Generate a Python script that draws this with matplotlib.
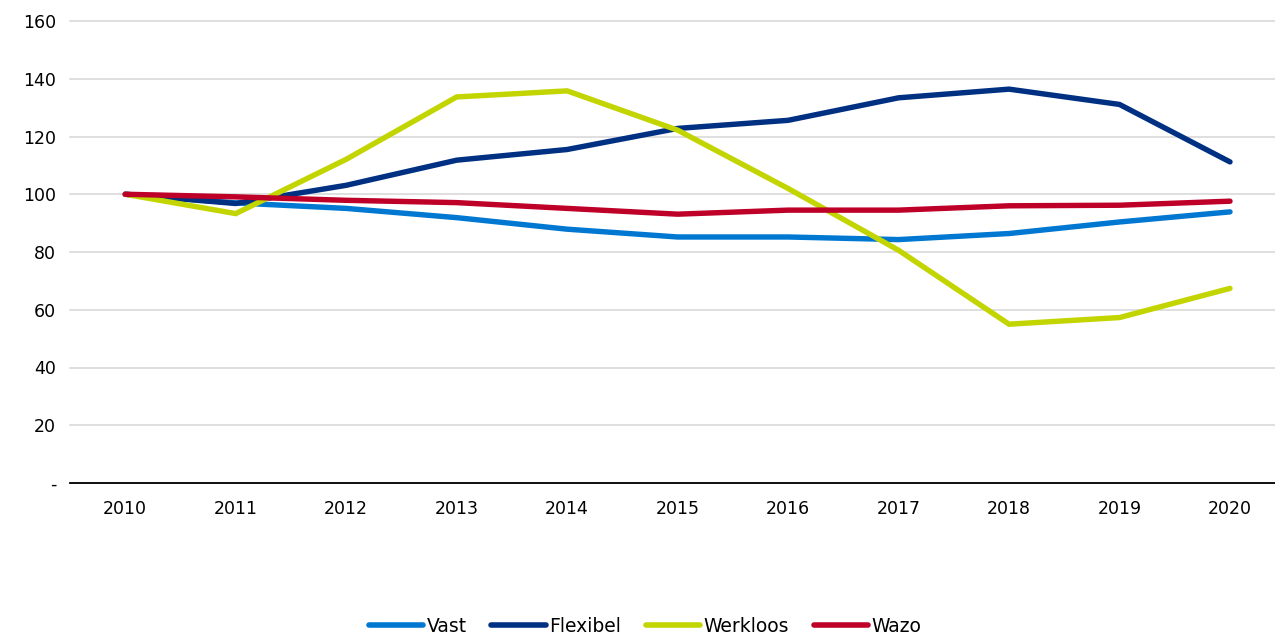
import matplotlib
matplotlib.use("Agg")
import matplotlib.pyplot as plt
from matplotlib.ticker import FixedLocator

years = [2010, 2011, 2012, 2013, 2014, 2015, 2016, 2017, 2018, 2019, 2020]
vast = [100, 97.0, 95.1, 91.9, 87.9, 85.2, 85.2, 84.3, 86.4, 90.4, 93.9]
flexibel = [100, 96.8, 103.1, 111.8, 115.5, 122.8, 125.6, 133.4, 136.4, 131.1, 111.2]
werkloos = [100, 93.3, 112.1, 133.7, 135.8, 122.2, 102.0, 80.6, 55.0, 57.3, 67.4]
wazo = [100, 99.1, 97.9, 97.1, 95.1, 93.1, 94.5, 94.5, 96.0, 96.2, 97.6]
series_names = ["Vast", "Flexibel", "Werkloos", "Wazo"]
colors = ["#0078D2", "#003082", "#C3D500", "#BE0028"]
yticks = [0, 20, 40, 60, 80, 100, 120, 140, 160]
ytick_labels = ["-", "20", "40", "60", "80", "100", "120", "140", "160"]

plt.rcParams['font.family'] = ['DejaVu Sans']
W, H = 1275, 634
fig = plt.figure(figsize=(W / 100, H / 100), dpi=100)
left, right, bottom, top = 70, 1275, 483, 21
ax = fig.add_axes([left / W, 1 - bottom / H, (right - left) / W, (bottom - top) / H])

x = list(range(len(years)))
for name, vals, c in zip(series_names, [vast, flexibel, werkloos, wazo], colors):
    ax.plot(x, vals, color=c, lw=3.9, solid_capstyle='round', solid_joinstyle='miter', label=name)

ax.set_ylim(0, 160)
ax.set_xlim(-0.5, 10 + (1275 - 1230) / 110.5)
ax.yaxis.set_major_locator(FixedLocator(yticks))
ax.set_yticklabels(ytick_labels)
ax.set_xticks(x)
ax.set_xticklabels([str(y) for y in years])
ax.grid(axis='y', color='#d9d9d9', lw=1.2)
for gl in ax.get_ygridlines():
    gl.set_clip_on(False)
ax.set_axisbelow(True)
for s in ['top', 'right', 'left']:
    ax.spines[s].set_visible(False)
ax.spines['bottom'].set_color('#000000')
ax.spines['bottom'].set_linewidth(1.3)
ax.tick_params(axis='both', length=0, labelsize=12.5, colors='#000000')
ax.tick_params(axis='y', pad=10)
ax.tick_params(axis='x', pad=12)

leg = fig.legend(loc='center', bbox_to_anchor=(645 / W, 1 - 626 / H), ncol=4, frameon=False,
                 fontsize=13.5, handlelength=2.9, handletextpad=0.2, columnspacing=1.3)
for line in leg.get_lines():
    line.set_linewidth(4)

fig.savefig("out.png", dpi=100)
